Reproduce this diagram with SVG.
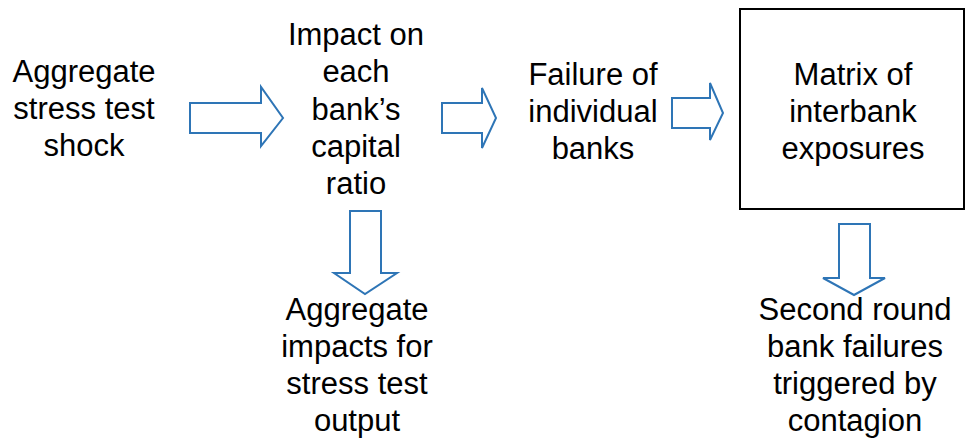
<svg xmlns="http://www.w3.org/2000/svg" width="966" height="442" viewBox="0 0 966 442">
  <style>
    .lbl { font-family: "Liberation Sans", Arial, sans-serif; font-size: 31px; fill: #000; text-anchor: middle; }
    .arrow { fill: #fff; stroke: #2E75B6; stroke-width: 2; stroke-linejoin: miter; }
    .box { fill: #fff; stroke: #000; stroke-width: 2; }
  </style>
  <rect width="966" height="442" fill="#fff"/>

  <!-- connectors: block arrows -->
  <g id="connectors">
    <polygon class="arrow" points="190,103 261,103 261,87 283,118 261,146 261,133 190,133"/>
    <polygon class="arrow" points="442,103 482,103 482,88 496,118 482,148 482,133 442,133"/>
    <polygon class="arrow" points="672,98 710,98 710,83 723,113 710,140 710,128 672,128"/>
    <polygon class="arrow" points="350,211 381,211 381,273 397,273 365,294 334,273 350,273"/>
    <polygon class="arrow" points="839,224 870,224 870,278 885,278 854,295 823,278 839,278"/>
  </g>

  <g id="shock">
    <text class="lbl" x="84" y="82">Aggregate</text>
    <text class="lbl" x="84" y="119">stress test</text>
    <text class="lbl" x="84" y="156">shock</text>
  </g>

  <g id="capital-impact">
    <text class="lbl" x="356" y="45">Impact on</text>
    <text class="lbl" x="356" y="82">each</text>
    <text class="lbl" x="356" y="120">bank’s</text>
    <text class="lbl" x="356" y="157">capital</text>
    <text class="lbl" x="356" y="194">ratio</text>
  </g>

  <g id="failures">
    <text class="lbl" x="593" y="85">Failure of</text>
    <text class="lbl" x="593" y="122">individual</text>
    <text class="lbl" x="593" y="159">banks</text>
  </g>

  <g id="matrix">
    <rect class="box" x="740" y="9" width="224" height="200"/>
    <text class="lbl" x="853" y="85">Matrix of</text>
    <text class="lbl" x="853" y="122">interbank</text>
    <text class="lbl" x="853" y="159">exposures</text>
  </g>

  <g id="aggregate-output">
    <text class="lbl" x="357" y="320">Aggregate</text>
    <text class="lbl" x="357" y="357">impacts for</text>
    <text class="lbl" x="357" y="394">stress test</text>
    <text class="lbl" x="357" y="431">output</text>
  </g>

  <g id="second-round">
    <text class="lbl" x="855" y="320">Second round</text>
    <text class="lbl" x="855" y="357">bank failures</text>
    <text class="lbl" x="855" y="394">triggered by</text>
    <text class="lbl" x="855" y="431">contagion</text>
  </g>
</svg>
